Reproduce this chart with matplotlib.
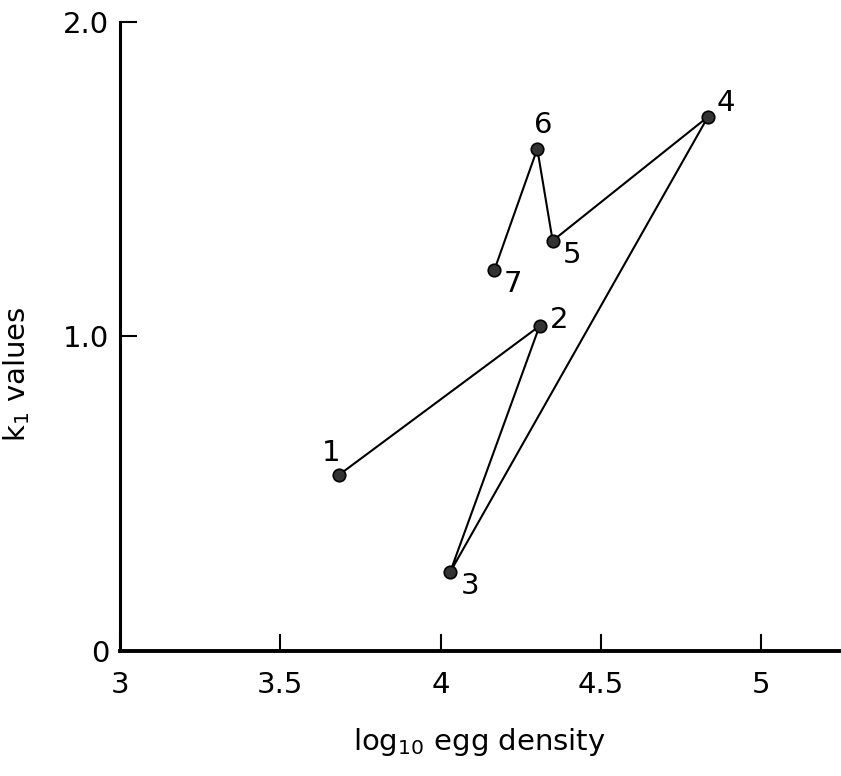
import matplotlib
matplotlib.use("Agg")
import matplotlib.pyplot as plt

# year points, in order (1..7)
labels = ["1", "2", "3", "4", "5", "6", "7"]
log_density = [3.683, 4.309, 4.03, 4.835, 4.35, 4.302, 4.168]
k1 = [0.56, 1.033, 0.251, 1.698, 1.304, 1.596, 1.211]

xticks = [3, 3.5, 4, 4.5, 5]
xticklabels = ["3", "3.5", "4", "4.5", "5"]
yticks = [0, 1.0, 2.0]
yticklabels = ["0", "1.0", "2.0"]

# label offsets in points (dx, dy)
offsets = [(-6, 16), (14, 4), (14, -10), (13, 10), (14, -10), (4, 17), (13, -10)]

plt.rcParams["font.family"] = "DejaVu Sans"

fig = plt.figure(figsize=(8.41, 7.76), dpi=100)
ax = fig.add_axes([0.143, 0.161, 0.855, 0.811])

ax.plot(log_density, k1, color="black", lw=1.5, zorder=2)
ax.plot(log_density, k1, "o", ms=9, mfc="#333333", mec="black", mew=1.2, zorder=3)

for lab, x, y, off in zip(labels, log_density, k1, offsets):
    ax.annotate(lab, (x, y), xytext=off, textcoords="offset points",
                ha="center", va="center", fontsize=21)

ax.set_xlim(3, 5.245)
ax.set_ylim(0, 2.0)
ax.set_xticks(xticks)
ax.set_xticklabels(xticklabels)
ax.set_yticks(yticks)
ax.set_yticklabels(yticklabels)

ax.spines["top"].set_visible(False)
ax.spines["right"].set_visible(False)
ax.spines["left"].set_linewidth(2.2)
ax.spines["bottom"].set_linewidth(2.8)
ax.tick_params(direction="in", length=12, width=1.5, labelsize=21, pad=8)
ax.tick_params(axis="x", pad=14)

ax.set_xlabel("log$_{10}$ egg density", fontsize=21, labelpad=20)
ax.set_ylabel("k$_1$ values", fontsize=21, labelpad=22, y=0.44)

fig.savefig("out.png", dpi=100)
